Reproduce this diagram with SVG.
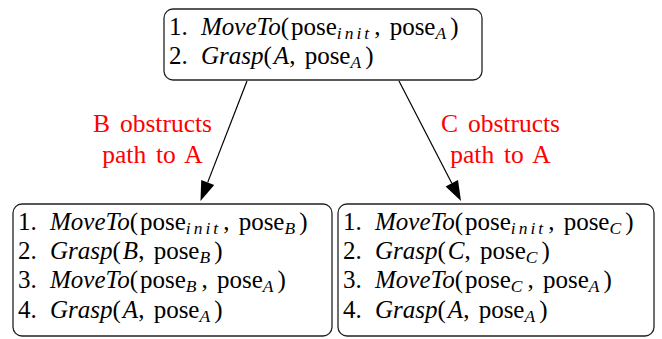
<svg xmlns="http://www.w3.org/2000/svg" width="662" height="339" viewBox="0 0 662 339" font-family="Liberation Serif">
<g id="connectors">
<line stroke="#000" stroke-width="1.2" x1="247" y1="81" x2="207.7" y2="182.4"/>
<path d="M200.5,201 L214.2,184.9 L201.2,179.9 Z" fill="#000"/>
<line stroke="#000" stroke-width="1.2" x1="399" y1="81" x2="451.8" y2="183.2"/>
<path d="M461,201 L458,180 L445.6,186.4 Z" fill="#000"/>
<text font-family="Liberation Serif" font-size="25.5" fill="#ff0000" text-anchor="middle" word-spacing="3.5" x="152.5" y="132">B obstructs</text>
<text font-family="Liberation Serif" font-size="25.5" fill="#ff0000" text-anchor="middle" word-spacing="3.5" x="152.5" y="163">path to A</text>
<text font-family="Liberation Serif" font-size="25.5" fill="#ff0000" text-anchor="middle" word-spacing="3.5" x="500.5" y="132">C obstructs</text>
<text font-family="Liberation Serif" font-size="25.5" fill="#ff0000" text-anchor="middle" word-spacing="3.5" x="500.5" y="163">path to A</text>
</g>
<g id="top">
<rect fill="#fff" stroke="#222" stroke-width="1.3" x="164" y="9" width="318" height="71" rx="9"/>
<text font-family="Liberation Serif" font-size="25" word-spacing="3" x="169" y="35">1.<tspan font-style="italic" x="201">MoveTo</tspan>(<tspan dx="2">pose</tspan><tspan font-size="17.5" font-style="italic" letter-spacing="3" dy="4">init</tspan><tspan dy="-4" dx="2">, pose</tspan><tspan font-size="17.5" font-style="italic" letter-spacing="3" dy="4">A</tspan><tspan dy="-4" dx="1">)</tspan></text>
<text font-family="Liberation Serif" font-size="25" word-spacing="3" x="169" y="64">2.<tspan font-style="italic" x="201">Grasp</tspan>(<tspan font-style="italic" dx="2">A</tspan>, pose<tspan font-size="17.5" font-style="italic" letter-spacing="3" dy="4">A</tspan><tspan dy="-4" dx="1">)</tspan></text>
</g>
<g id="left">
<rect fill="#fff" stroke="#222" stroke-width="1.3" x="13" y="204" width="319" height="132" rx="9"/>
<text font-family="Liberation Serif" font-size="25" word-spacing="3" x="18" y="230">1.<tspan font-style="italic" x="50">MoveTo</tspan>(<tspan dx="2">pose</tspan><tspan font-size="17.5" font-style="italic" letter-spacing="3" dy="4">init</tspan><tspan dy="-4" dx="2">, pose</tspan><tspan font-size="17.5" font-style="italic" letter-spacing="3" dy="4">B</tspan><tspan dy="-4" dx="1">)</tspan></text>
<text font-family="Liberation Serif" font-size="25" word-spacing="3" x="18" y="259">2.<tspan font-style="italic" x="50">Grasp</tspan>(<tspan font-style="italic" dx="2">B</tspan>, pose<tspan font-size="17.5" font-style="italic" letter-spacing="3" dy="4">B</tspan><tspan dy="-4" dx="1">)</tspan></text>
<text font-family="Liberation Serif" font-size="25" word-spacing="3" x="18" y="288">3.<tspan font-style="italic" x="50">MoveTo</tspan>(<tspan dx="2">pose</tspan><tspan font-size="17.5" font-style="italic" letter-spacing="3" dy="4">B</tspan><tspan dy="-4" dx="2">, pose</tspan><tspan font-size="17.5" font-style="italic" letter-spacing="3" dy="4">A</tspan><tspan dy="-4" dx="1">)</tspan></text>
<text font-family="Liberation Serif" font-size="25" word-spacing="3" x="18" y="318">4.<tspan font-style="italic" x="50">Grasp</tspan>(<tspan font-style="italic" dx="2">A</tspan>, pose<tspan font-size="17.5" font-style="italic" letter-spacing="3" dy="4">A</tspan><tspan dy="-4" dx="1">)</tspan></text>
</g>
<g id="right">
<rect fill="#fff" stroke="#222" stroke-width="1.3" x="338" y="204" width="316" height="132" rx="9"/>
<text font-family="Liberation Serif" font-size="25" word-spacing="3" x="343" y="230">1.<tspan font-style="italic" x="375">MoveTo</tspan>(<tspan dx="2">pose</tspan><tspan font-size="17.5" font-style="italic" letter-spacing="3" dy="4">init</tspan><tspan dy="-4" dx="2">, pose</tspan><tspan font-size="17.5" font-style="italic" letter-spacing="3" dy="4">C</tspan><tspan dy="-4" dx="1">)</tspan></text>
<text font-family="Liberation Serif" font-size="25" word-spacing="3" x="343" y="259">2.<tspan font-style="italic" x="375">Grasp</tspan>(<tspan font-style="italic" dx="2">C</tspan>, pose<tspan font-size="17.5" font-style="italic" letter-spacing="3" dy="4">C</tspan><tspan dy="-4" dx="1">)</tspan></text>
<text font-family="Liberation Serif" font-size="25" word-spacing="3" x="343" y="288">3.<tspan font-style="italic" x="375">MoveTo</tspan>(<tspan dx="2">pose</tspan><tspan font-size="17.5" font-style="italic" letter-spacing="3" dy="4">C</tspan><tspan dy="-4" dx="2">, pose</tspan><tspan font-size="17.5" font-style="italic" letter-spacing="3" dy="4">A</tspan><tspan dy="-4" dx="1">)</tspan></text>
<text font-family="Liberation Serif" font-size="25" word-spacing="3" x="343" y="318">4.<tspan font-style="italic" x="375">Grasp</tspan>(<tspan font-style="italic" dx="2">A</tspan>, pose<tspan font-size="17.5" font-style="italic" letter-spacing="3" dy="4">A</tspan><tspan dy="-4" dx="1">)</tspan></text>
</g>
</svg>
